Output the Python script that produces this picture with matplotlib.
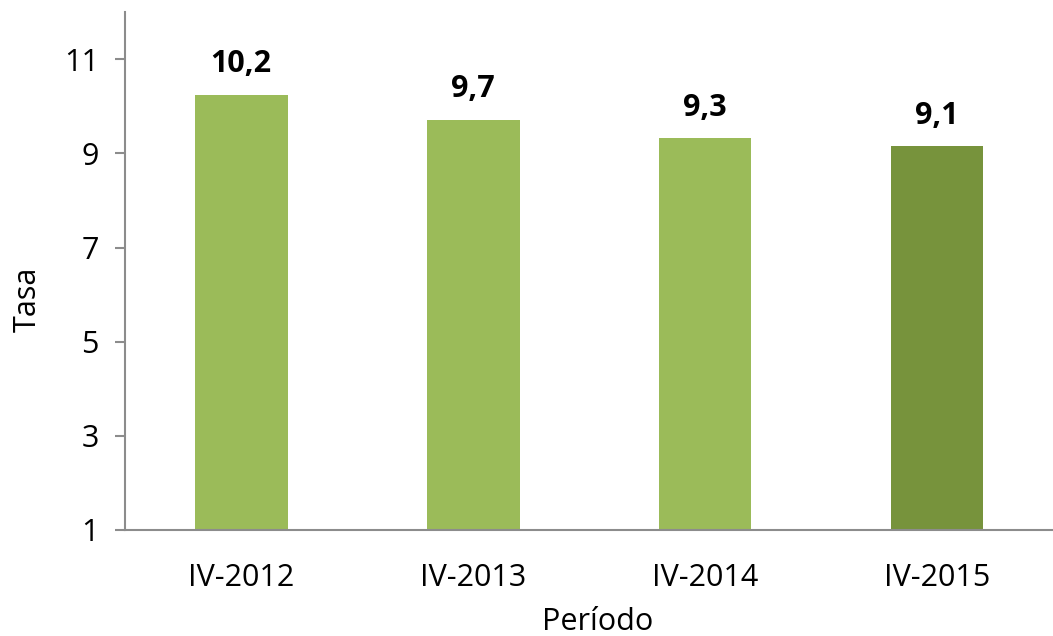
import matplotlib.pyplot as plt

# datos
periodos = ['IV-2012', 'IV-2013', 'IV-2014', 'IV-2015']
tasas = [10.25, 9.72, 9.32, 9.15]
etiquetas = ['10,2', '9,7', '9,3', '9,1']
colores = ['#9BBB59', '#9BBB59', '#9BBB59', '#77933C']

plt.rcParams['font.family'] = ['Open Sans', 'DejaVu Sans']

fig = plt.figure(figsize=(10.53, 6.36), dpi=100)
ax = fig.add_axes([0.119, 0.1667, 0.881, 0.814])

x = range(len(periodos))
ax.bar(x, tasas, width=0.40, color=colores, bottom=0)

for xi, v, t in zip(x, tasas, etiquetas):
    ax.annotate(t, (xi, v), xytext=(0, 16), textcoords='offset points',
                ha='center', va='baseline', fontsize=22, fontweight='bold')

ax.set_xlim(-0.5, 3.5)
ax.set_ylim(1, 12)
ax.set_yticks([1, 3, 5, 7, 9, 11])
ax.set_xticks(list(x))
ax.set_xticklabels(periodos)

gris = '#8c8c8c'
for s in ['top', 'right']:
    ax.spines[s].set_visible(False)
ax.spines['left'].set_color(gris)
ax.spines['bottom'].set_color(gris)
ax.spines['left'].set_linewidth(1.5)
ax.spines['bottom'].set_linewidth(1.5)

ax.tick_params(axis='y', length=7, width=1.5, color=gris, labelsize=22, pad=12)
ax.tick_params(axis='x', length=0, labelsize=22, pad=24)

ax.set_ylabel('Tasa', fontsize=22)
ax.set_xlabel('Período', fontsize=22)
ax.yaxis.set_label_coords(-0.089, 0.446)
ax.xaxis.set_label_coords(0.509, -0.148)

fig.savefig('out.png', dpi=100)
